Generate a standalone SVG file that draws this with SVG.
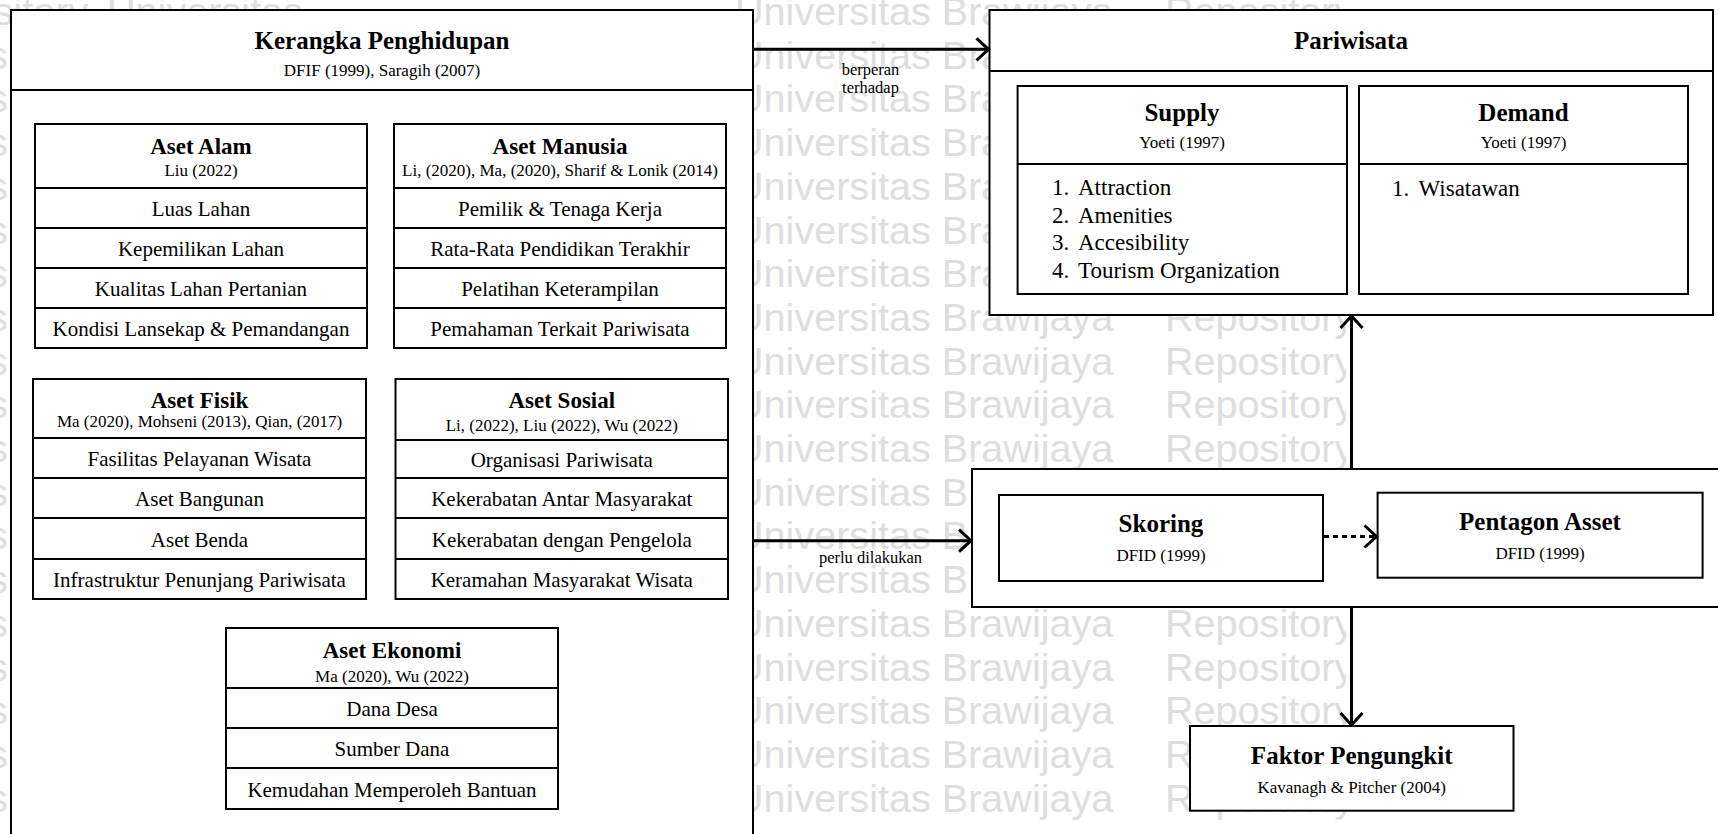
<svg xmlns="http://www.w3.org/2000/svg" width="1718" height="834" viewBox="0 0 1718 834">
  <style>
    .box { fill: #ffffff; stroke: #000000; stroke-width: 2; }
    .ln { stroke: #000000; stroke-width: 2; }
    .conn { fill: none; stroke: #000000; stroke-width: 3; }
    .dot { stroke-dasharray: 5 4; }
    .serif { font-family: "Liberation Serif", "Times New Roman", serif; fill: #000000; }
    .t1 { font-size: 25px; font-weight: bold; text-anchor: middle; }
    .t2 { font-size: 23px; font-weight: bold; text-anchor: middle; }
    .sub { font-size: 17px; text-anchor: middle; }
    .row { font-size: 21px; text-anchor: middle; }
    .li { font-size: 23px; }
    .lbl { font-size: 16.5px; text-anchor: middle; }
    .wm { font-family: "Liberation Sans", Arial, sans-serif; font-size: 39.6px; fill: #dedede; }
  </style>
  <defs>
    <marker id="arrow" markerUnits="userSpaceOnUse" viewBox="-15 -13 17 26" refX="0" refY="0" markerWidth="17" markerHeight="26" orient="auto">
      <path d="M-12,-11 L0,0 L-12,11" fill="none" stroke="#000000" stroke-width="3"/>
    </marker>
    <clipPath id="wmClip">
      <rect x="0" y="0" width="1346" height="834"/>
    </clipPath>
  </defs>

  <rect x="0" y="0" width="1718" height="834" fill="#ffffff"/>

  <!-- background watermark rows -->
  <g id="watermark" class="wm" clip-path="url(#wmClip)">
    <text y="25"><tspan x="-101">Repository</tspan><tspan x="107">Universitas</tspan><tspan x="735">Universitas Brawijaya</tspan><tspan x="1165">Repository</tspan></text>
    <text y="68.7"><tspan x="-188">Universitas</tspan><tspan x="735">Universitas Brawijaya</tspan><tspan x="1165">Repository</tspan></text>
    <text y="112.4"><tspan x="-188">Universitas</tspan><tspan x="735">Universitas Brawijaya</tspan><tspan x="1165">Repository</tspan></text>
    <text y="156.1"><tspan x="-188">Universitas</tspan><tspan x="735">Universitas Brawijaya</tspan><tspan x="1165">Repository</tspan></text>
    <text y="199.8"><tspan x="-188">Universitas</tspan><tspan x="735">Universitas Brawijaya</tspan><tspan x="1165">Repository</tspan></text>
    <text y="243.5"><tspan x="-188">Universitas</tspan><tspan x="735">Universitas Brawijaya</tspan><tspan x="1165">Repository</tspan></text>
    <text y="287.2"><tspan x="-188">Universitas</tspan><tspan x="735">Universitas Brawijaya</tspan><tspan x="1165">Repository</tspan></text>
    <text y="330.9"><tspan x="-188">Universitas</tspan><tspan x="735">Universitas Brawijaya</tspan><tspan x="1165">Repository</tspan></text>
    <text y="374.6"><tspan x="-188">Universitas</tspan><tspan x="735">Universitas Brawijaya</tspan><tspan x="1165">Repository</tspan></text>
    <text y="418.3"><tspan x="-188">Universitas</tspan><tspan x="735">Universitas Brawijaya</tspan><tspan x="1165">Repository</tspan></text>
    <text y="462"><tspan x="-188">Universitas</tspan><tspan x="735">Universitas Brawijaya</tspan><tspan x="1165">Repository</tspan></text>
    <text y="505.7"><tspan x="-188">Universitas</tspan><tspan x="735">Universitas Brawijaya</tspan><tspan x="1165">Repository</tspan></text>
    <text y="549.4"><tspan x="-188">Universitas</tspan><tspan x="735">Universitas Brawijaya</tspan><tspan x="1165">Repository</tspan></text>
    <text y="593.1"><tspan x="-188">Universitas</tspan><tspan x="735">Universitas Brawijaya</tspan><tspan x="1165">Repository</tspan></text>
    <text y="636.8"><tspan x="-188">Universitas</tspan><tspan x="735">Universitas Brawijaya</tspan><tspan x="1165">Repository</tspan></text>
    <text y="680.5"><tspan x="-188">Universitas</tspan><tspan x="735">Universitas Brawijaya</tspan><tspan x="1165">Repository</tspan></text>
    <text y="724.2"><tspan x="-188">Universitas</tspan><tspan x="735">Universitas Brawijaya</tspan><tspan x="1165">Repository</tspan></text>
    <text y="767.9"><tspan x="-188">Universitas</tspan><tspan x="735">Universitas Brawijaya</tspan><tspan x="1165">Repository</tspan></text>
    <text y="811.6"><tspan x="-188">Universitas</tspan><tspan x="735">Universitas Brawijaya</tspan><tspan x="1165">Repository</tspan></text>
  </g>

  <!-- Kerangka Penghidupan container -->
  <g id="kerangka">
    <rect class="box" x="11" y="10" width="742" height="840"/>
    <line class="ln" x1="11" y1="90" x2="753" y2="90"/>
    <text class="serif t1" x="382" y="49">Kerangka Penghidupan</text>
    <text class="serif sub" x="382" y="76">DFIF (1999), Saragih (2007)</text>
  </g>

  <g id="aset-alam">
    <rect class="box" x="35" y="124" width="332" height="224"/>
    <line class="ln" x1="35" y1="188" x2="367" y2="188"/>
    <line class="ln" x1="35" y1="228" x2="367" y2="228"/>
    <line class="ln" x1="35" y1="268" x2="367" y2="268"/>
    <line class="ln" x1="35" y1="308" x2="367" y2="308"/>
    <text class="serif t2" x="201" y="154">Aset Alam</text>
    <text class="serif sub" x="201" y="176">Liu (2022)</text>
    <text class="serif row" x="201" y="216">Luas Lahan</text>
    <text class="serif row" x="201" y="256">Kepemilikan Lahan</text>
    <text class="serif row" x="201" y="296">Kualitas Lahan Pertanian</text>
    <text class="serif row" x="201" y="336">Kondisi Lansekap &amp; Pemandangan</text>
  </g>

  <g id="aset-manusia">
    <rect class="box" x="394" y="124" width="332" height="224"/>
    <line class="ln" x1="394" y1="188" x2="726" y2="188"/>
    <line class="ln" x1="394" y1="228" x2="726" y2="228"/>
    <line class="ln" x1="394" y1="268" x2="726" y2="268"/>
    <line class="ln" x1="394" y1="308" x2="726" y2="308"/>
    <text class="serif t2" x="560" y="154">Aset Manusia</text>
    <text class="serif sub" x="560" y="176">Li, (2020), Ma, (2020), Sharif &amp; Lonik (2014)</text>
    <text class="serif row" x="560" y="216">Pemilik &amp; Tenaga Kerja</text>
    <text class="serif row" x="560" y="256">Rata-Rata Pendidikan Terakhir</text>
    <text class="serif row" x="560" y="296">Pelatihan Keterampilan</text>
    <text class="serif row" x="560" y="336">Pemahaman Terkait Pariwisata</text>
  </g>

  <g id="aset-fisik">
    <rect class="box" x="33" y="379" width="333" height="220"/>
    <line class="ln" x1="33" y1="438" x2="366" y2="438"/>
    <line class="ln" x1="33" y1="478" x2="366" y2="478"/>
    <line class="ln" x1="33" y1="518" x2="366" y2="518"/>
    <line class="ln" x1="33" y1="559" x2="366" y2="559"/>
    <text class="serif t2" x="199.5" y="408">Aset Fisik</text>
    <text class="serif sub" x="199.5" y="427">Ma (2020), Mohseni (2013), Qian, (2017)</text>
    <text class="serif row" x="199.5" y="466">Fasilitas Pelayanan Wisata</text>
    <text class="serif row" x="199.5" y="506">Aset Bangunan</text>
    <text class="serif row" x="199.5" y="546.5">Aset Benda</text>
    <text class="serif row" x="199.5" y="587">Infrastruktur Penunjang Pariwisata</text>
  </g>

  <g id="aset-sosial">
    <rect class="box" x="395.5" y="379" width="332.5" height="220"/>
    <line class="ln" x1="395.5" y1="440" x2="728" y2="440"/>
    <line class="ln" x1="395.5" y1="478" x2="728" y2="478"/>
    <line class="ln" x1="395.5" y1="518" x2="728" y2="518"/>
    <line class="ln" x1="395.5" y1="559" x2="728" y2="559"/>
    <text class="serif t2" x="561.8" y="408">Aset Sosial</text>
    <text class="serif sub" x="561.8" y="431">Li, (2022), Liu (2022), Wu (2022)</text>
    <text class="serif row" x="561.8" y="467">Organisasi Pariwisata</text>
    <text class="serif row" x="561.8" y="506">Kekerabatan Antar Masyarakat</text>
    <text class="serif row" x="561.8" y="546.5">Kekerabatan dengan Pengelola</text>
    <text class="serif row" x="561.8" y="587">Keramahan Masyarakat Wisata</text>
  </g>

  <g id="aset-ekonomi">
    <rect class="box" x="226" y="628" width="332" height="181"/>
    <line class="ln" x1="226" y1="688" x2="558" y2="688"/>
    <line class="ln" x1="226" y1="728" x2="558" y2="728"/>
    <line class="ln" x1="226" y1="768" x2="558" y2="768"/>
    <text class="serif t2" x="392" y="658">Aset Ekonomi</text>
    <text class="serif sub" x="392" y="682">Ma (2020), Wu (2022)</text>
    <text class="serif row" x="392" y="716">Dana Desa</text>
    <text class="serif row" x="392" y="756">Sumber Dana</text>
    <text class="serif row" x="392" y="796.5">Kemudahan Memperoleh Bantuan</text>
  </g>

  <!-- Pariwisata container with Supply / Demand -->
  <g id="pariwisata">
    <rect class="box" x="989.5" y="10" width="723.5" height="305"/>
    <line class="ln" x1="989.5" y1="71" x2="1713" y2="71"/>
    <text class="serif t1" x="1351" y="49">Pariwisata</text>
  </g>

  <g id="supply">
    <rect class="box" x="1017.6" y="86" width="329.4" height="208"/>
    <line class="ln" x1="1017.6" y1="164" x2="1347" y2="164"/>
    <text class="serif t1" x="1182" y="121">Supply</text>
    <text class="serif sub" x="1182" y="148">Yoeti (1997)</text>
    <text class="serif li" y="195"><tspan x="1052">1.</tspan><tspan x="1078">Attraction</tspan></text>
    <text class="serif li" y="222.5"><tspan x="1052">2.</tspan><tspan x="1078">Amenities</tspan></text>
    <text class="serif li" y="250"><tspan x="1052">3.</tspan><tspan x="1078">Accesibility</tspan></text>
    <text class="serif li" y="277.5"><tspan x="1052">4.</tspan><tspan x="1078">Tourism Organization</tspan></text>
  </g>

  <g id="demand">
    <rect class="box" x="1359" y="86" width="329" height="208"/>
    <line class="ln" x1="1359" y1="164" x2="1688" y2="164"/>
    <text class="serif t1" x="1523.5" y="121">Demand</text>
    <text class="serif sub" x="1523.5" y="148">Yoeti (1997)</text>
    <text class="serif li" y="196"><tspan x="1392">1.</tspan><tspan x="1418.5">Wisatawan</tspan></text>
  </g>

  <!-- analysis container -->
  <g id="analisis">
    <rect class="box" x="972" y="469" width="750" height="138"/>
  </g>

  <g id="skoring">
    <rect class="box" x="999" y="495" width="324" height="86"/>
    <text class="serif t1" x="1161" y="532">Skoring</text>
    <text class="serif sub" x="1161" y="561">DFID (1999)</text>
  </g>

  <g id="pentagon-asset">
    <rect class="box" x="1377.6" y="492.7" width="325" height="85"/>
    <text class="serif t1" x="1540" y="530">Pentagon Asset</text>
    <text class="serif sub" x="1540" y="559">DFID (1999)</text>
  </g>

  <g id="faktor-pengungkit">
    <rect class="box" x="1190" y="726" width="323.5" height="84.7"/>
    <text class="serif t1" x="1351.7" y="763.5">Faktor Pengungkit</text>
    <text class="serif sub" x="1351.7" y="793">Kavanagh &amp; Pitcher (2004)</text>
  </g>

  <!-- connectors -->
  <g id="connectors">
    <line class="conn" x1="753" y1="49.3" x2="988.5" y2="49.3" marker-end="url(#arrow)"/>
    <line class="conn" x1="753" y1="540.7" x2="971" y2="540.7" marker-end="url(#arrow)"/>
    <line class="conn dot" x1="1324" y1="536.5" x2="1376.5" y2="536.5" marker-end="url(#arrow)"/>
    <line class="conn" x1="1351.5" y1="468" x2="1351.5" y2="316" marker-end="url(#arrow)"/>
    <line class="conn" x1="1351.5" y1="608" x2="1351.5" y2="725" marker-end="url(#arrow)"/>
    <text class="serif lbl" x="870.5" y="75">berperan</text>
    <text class="serif lbl" x="870.5" y="93">terhadap</text>
    <text class="serif lbl" x="870.5" y="563">perlu dilakukan</text>
  </g>
</svg>
